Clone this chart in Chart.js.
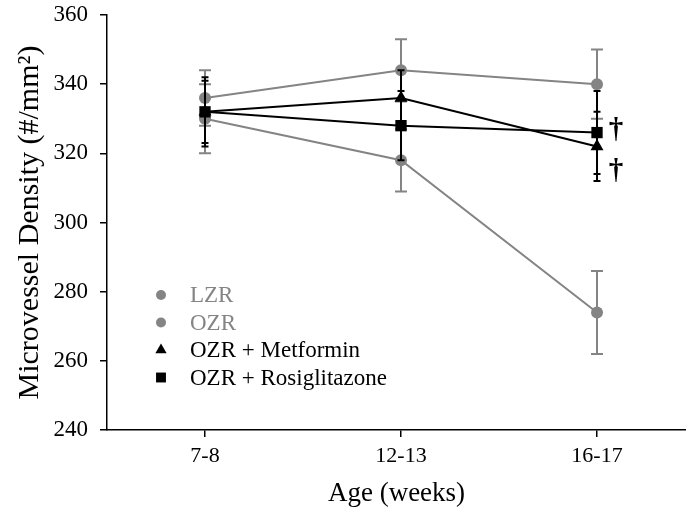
<!DOCTYPE html>
<html>
<head>
<meta charset="utf-8">
<script src="https://cdn.jsdelivr.net/npm/chart.js@4/dist/chart.umd.min.js"></script>
<style>
  html, body { margin: 0; padding: 0; background: #fff; overflow: hidden; }
  canvas { display: block; }
</style>
</head>
<body>
<!-- the x axis runs off the right edge of the 686px page -->
<canvas id="density" width="694" height="516"></canvas>
<script>
// Microvessel density by age group, mean ± SE
const ageGroups = ["7-8", "12-13", "16-17"]
const yTicks = [240, 260, 280, 300, 320, 340, 360]

const lzr = [336, 344, 340]
const lzrErr = [8, 9, 10]
const ozr = [330, 318, 274]
const ozrErr = [10, 9, 12]
const metformin = [332, 336, 322]
const metforminErr = [10, 8, 10]
const rosiglitazone = [332, 328, 326]
const rosiglitazoneErr = [9, 10, 12]

const GRAY = "#848484"
const BLACK = "#000000"
const SERIF = '"Liberation Serif", "Times New Roman", serif'

const points = values => values.map((v, i) => ({ x: i + 1, y: v }))

function series(label, values, errors, color, pointStyle, radius, capWidth, order) {
  return {
    label,
    data: points(values),
    errors,
    capWidth,
    order,
    borderColor: color,
    backgroundColor: color,
    pointBackgroundColor: color,
    pointBorderWidth: 0,
    pointStyle,
    pointRadius: radius,
    borderWidth: 2,
    tension: 0,
    fill: false
  }
}

// keep the plot area exactly where the layout padding puts it
function noScalePadding(scale) {
  scale.paddingTop = 0
  scale.paddingBottom = 0
  scale.paddingLeft = 0
  scale.paddingRight = 0
}

// vertical error bars, drawn just beneath each series
const errorBars = {
  id: "errorBars",
  beforeDatasetDraw(chart, args) {
    const ds = chart.data.datasets[args.index]
    const { ctx } = chart
    const y = chart.scales.y
    ctx.save()
    ctx.strokeStyle = ds.borderColor
    ctx.lineWidth = 2
    args.meta.data.forEach((pt, i) => {
      const v = ds.data[i].y
      const e = ds.errors[i]
      const top = y.getPixelForValue(v + e)
      const bot = y.getPixelForValue(v - e)
      const half = ds.capWidth / 2
      ctx.beginPath()
      ctx.moveTo(pt.x, top)
      ctx.lineTo(pt.x, bot)
      ctx.moveTo(pt.x - half, top)
      ctx.lineTo(pt.x + half, top)
      ctx.moveTo(pt.x - half, bot)
      ctx.lineTo(pt.x + half, bot)
      ctx.stroke()
    })
    ctx.restore()
  }
}

// significance daggers next to the last time point
const daggers = {
  id: "daggers",
  afterDatasetsDraw(chart) {
    const { ctx } = chart
    const marks = [
      { dataset: 3, index: 2, dx: 19, dy: -2 },
      { dataset: 2, index: 2, dx: 19, dy: 25 }
    ]
    ctx.save()
    ctx.fillStyle = BLACK
    ctx.font = "bold 29px " + SERIF
    ctx.textAlign = "center"
    ctx.textBaseline = "middle"
    marks.forEach(m => {
      const pt = chart.getDatasetMeta(m.dataset).data[m.index]
      ctx.fillText("\u2020", pt.x + m.dx, pt.y + m.dy)
    })
    ctx.restore()
  }
}

// legend in the lower-left of the plot area
const insetLegend = {
  id: "insetLegend",
  afterDraw(chart) {
    const { ctx, chartArea } = chart
    const x0 = chartArea.left + 54
    const y0 = 295
    const rowH = 27.5
    const items = [
      { text: "LZR", color: GRAY, style: "circle", radius: 5 },
      { text: "OZR", color: GRAY, style: "circle", radius: 5 },
      { text: "OZR + Metformin", color: BLACK, style: "triangle", radius: 6.5 },
      { text: "OZR + Rosiglitazone", color: BLACK, style: "rect", radius: 7 }
    ]
    ctx.save()
    ctx.font = "23px " + SERIF
    ctx.textBaseline = "middle"
    ctx.textAlign = "left"
    items.forEach((it, i) => {
      const y = y0 + i * rowH
      ctx.fillStyle = it.color
      Chart.helpers.drawPoint(ctx, { pointStyle: it.style, radius: it.radius, rotation: 0, borderWidth: 0 }, x0, y)
      ctx.fillStyle = it.color
      ctx.fillText(it.text, x0 + 29, y + 1)
    })
    ctx.restore()
  }
}

new Chart(document.getElementById("density"), {
  type: "line",
  data: {
    datasets: [
      series("LZR", lzr, lzrErr, GRAY, "circle", 6, 12, 4),
      series("OZR", ozr, ozrErr, GRAY, "circle", 6, 12, 3),
      series("OZR + Metformin", metformin, metforminErr, BLACK, "triangle", 7.5, 7, 2),
      series("OZR + Rosiglitazone", rosiglitazone, rosiglitazoneErr, BLACK, "rect", 8, 7, 1)
    ]
  },
  options: {
    responsive: false,
    animation: false,
    layout: { padding: { top: 15, right: 0, bottom: 0, left: 0 } },
    plugins: {
      legend: { display: false },
      tooltip: { enabled: false }
    },
    scales: {
      x: {
        type: "linear",
        min: 0.5,
        max: 3.454,
        afterBuildTicks: scale => { scale.ticks = ageGroups.map((_, i) => ({ value: i + 1 })) },
        afterFit: scale => { scale.height = 86; noScalePadding(scale) },
        ticks: {
          callback: v => ageGroups[v - 1],
          font: { family: SERIF, size: 22 },
          color: BLACK,
          padding: 6,
          maxRotation: 0
        },
        grid: { drawOnChartArea: false, drawTicks: true, tickLength: 7, color: BLACK, lineWidth: 1.5 },
        border: { color: BLACK, width: 1.5 },
        title: {
          display: true,
          text: "Age (weeks)",
          font: { family: SERIF, size: 27 },
          color: BLACK,
          padding: { top: 0, bottom: 6 }
        }
      },
      y: {
        min: 240,
        max: 360,
        afterBuildTicks: scale => { scale.ticks = yTicks.map(v => ({ value: v })) },
        afterFit: scale => { scale.width = 107; noScalePadding(scale) },
        ticks: {
          font: { family: SERIF, size: 23 },
          color: BLACK,
          padding: 12
        },
        grid: { drawOnChartArea: false, drawTicks: true, tickLength: 7, color: BLACK, lineWidth: 1.5 },
        border: { color: BLACK, width: 1.5 },
        title: {
          display: true,
          text: "Microvessel Density (#/mm\u00b2)",
          font: { family: SERIF, size: 30 },
          color: BLACK,
          padding: { top: 12, bottom: 0 }
        }
      }
    }
  },
  plugins: [errorBars, daggers, insetLegend]
})
</script>
</body>
</html>
